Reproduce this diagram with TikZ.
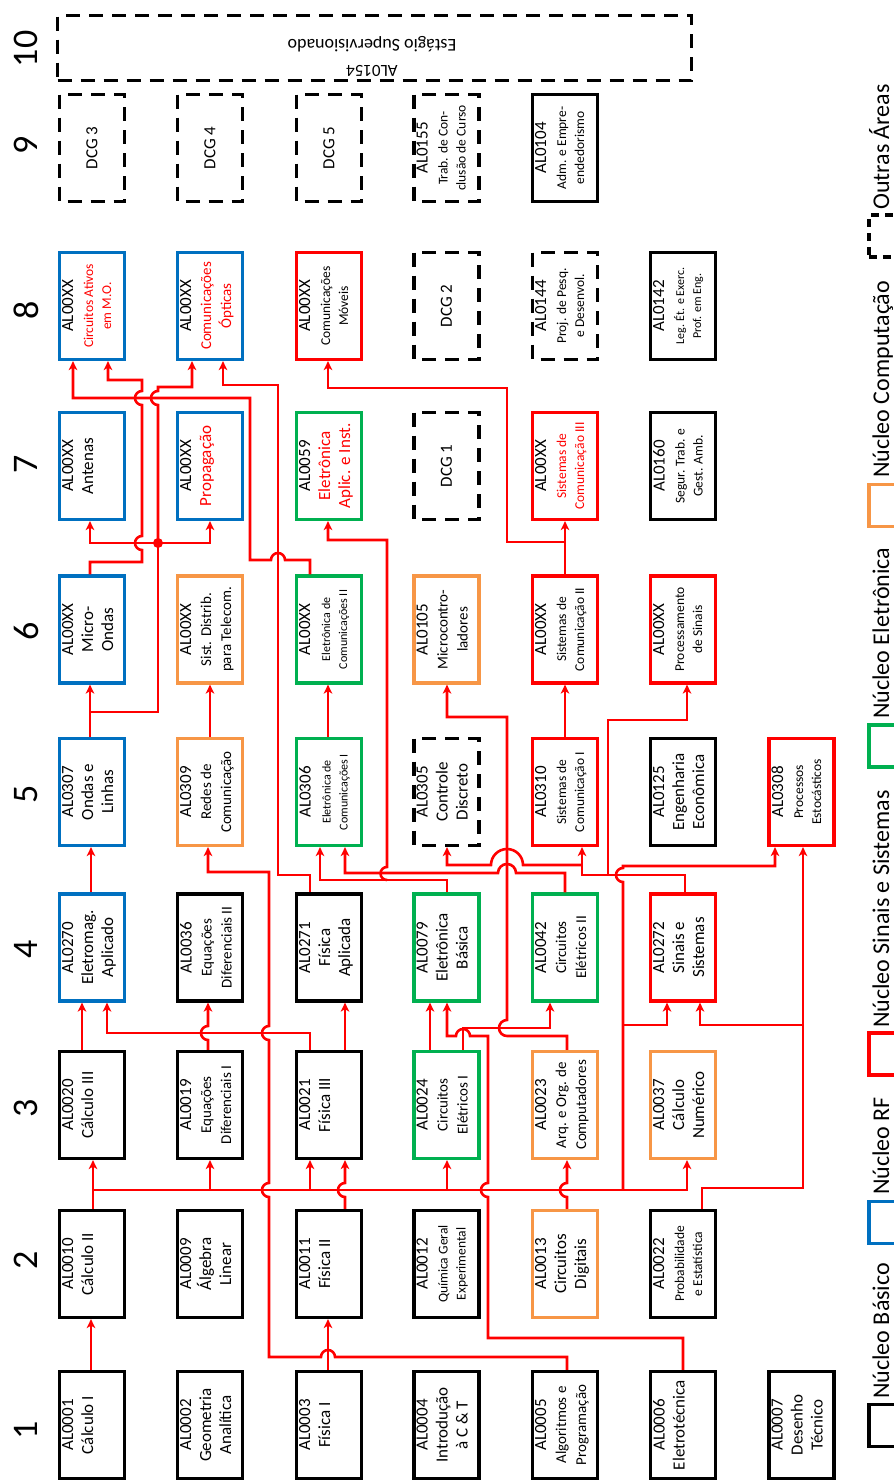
\documentclass[tikz,border=0pt]{standalone}
\usepackage{fontspec}
\setmainfont{Carlito}
\usetikzlibrary{arrows.meta}
\definecolor{cblue}{RGB}{0,112,192}
\definecolor{cgreen}{RGB}{0,176,80}
\definecolor{corange}{RGB}{247,150,70}
\definecolor{cred}{RGB}{255,0,0}
\newcommand\dmed[1]{{\fontsize{15}{18}\selectfont #1}}
\newcommand\dsml[1]{{\fontsize{13.5}{16}\selectfont #1}}
\newcommand\dtny[1]{{\fontsize{12}{14}\selectfont #1}}
\newcommand\redt[1]{\textcolor{cred}{#1}}
\newcommand\mybox[5]{\node[#2] (#1) at (#3,#4) {};\node[txt,anchor=north] (#1t) at ([xshift=4pt]#1.north) {#5};}
\begin{document}
\begin{tikzpicture}[x=1pt,y=-1pt,
  bx/.style={draw=#1, line width=3.2pt, rotate=90, minimum width=107pt, minimum height=65pt, inner sep=0pt},
  dbx/.style={draw=black, line width=3.2pt, dash pattern=on 14pt off 9pt, rotate=90, minimum width=107pt, minimum height=65pt, inner sep=0pt, font=\fontsize{17}{20}\selectfont, text=black},
  txt/.style={rotate=90, align=center, inner sep=0pt, font=\fontsize{17}{20}\selectfont, text=black},
  arr/.style={draw=cred, line width=2.6pt, -{Stealth[length=9pt,width=8.5pt,inset=2.5pt]}},
  ln/.style={draw=cred, line width=2.6pt},
  sem/.style={rotate=90, inner sep=0pt, font=\fontsize{36}{40}\selectfont},
  leg/.style={rotate=90, inner sep=0pt, anchor=base west, font=\fontsize{24}{28}\selectfont},
  legsq/.style={draw=#1, line width=3.5pt, minimum width=40pt, minimum height=42pt, inner sep=0pt}
]
\useasboundingbox (0,0) rectangle (894,1481);
\fill[white] (0,0) rectangle (894,1481);
\clip (0,0) rectangle (894,1481);

% semester labels
\node[sem] (n1) at (26,1430) {1};
\node[sem] (n2) at (26,1260) {2};
\node[sem] (n3) at (26,1108) {3};
\node[sem] (n4) at (26,949) {4};
\node[sem] (n5) at (26,794) {5};
\node[sem] (n6) at (26,631) {6};
\node[sem] (n7) at (26,464) {7};
\node[sem] (n8) at (26,310) {8};
\node[sem] (n9) at (26,145) {9};
\node[sem] (n10) at (26,49) {10};

% semester 1
\mybox{a1}{bx=black}{92}{1425}{AL0001\\Cálculo I}
\mybox{b1}{bx=black}{210}{1425}{AL0002\\Geometria\\Analítica}
\mybox{c1}{bx=black}{329}{1425}{AL0003\\Física I}
\mybox{d1}{bx=black}{446.5}{1425}{AL0004\\Introdução\\à C \& T}
\mybox{e1}{bx=black}{565}{1425}{AL0005\\\dmed{Algoritmos e}\\\dmed{Programação}}
\mybox{f1}{bx=black}{683}{1425}{AL0006\\Eletrotécnica}
\mybox{g1}{bx=black}{801.5}{1425}{AL0007\\Desenho\\Técnico}
% semester 2
\mybox{a2}{bx=black}{92}{1264}{AL0010\\Cálculo II}
\mybox{b2}{bx=black}{210}{1264}{AL0009\\Álgebra\\Linear}
\mybox{c2}{bx=black}{329}{1264}{AL0011\\Física II}
\mybox{d2}{bx=black}{446.5}{1264}{AL0012\\\dsml{Química Geral}\\[-2pt]\dsml{Experimental}}
\mybox{e2}{bx=corange}{565}{1264}{AL0013\\Circuitos\\Digitais}
\mybox{f2}{bx=black}{683}{1264}{AL0022\\\dsml{Probabilidade}\\[-2pt]\dsml{e Estatística}}
% semester 3
\mybox{a3}{bx=black}{92}{1105}{AL0020\\Cálculo III}
\mybox{b3}{bx=black}{210}{1105}{AL0019\\\dmed{Equações}\\\dmed{Diferenciais I}}
\mybox{c3}{bx=black}{329}{1105}{AL0021\\Física III}
\mybox{d3}{bx=cgreen}{446.5}{1105}{AL0024\\\dmed{Circuitos}\\\dmed{Elétricos I}}
\mybox{e3}{bx=corange}{565}{1105}{AL0023\\\dmed{Arq. e Org. de}\\\dmed{Computadores}}
\mybox{f3}{bx=corange}{683}{1105}{AL0037\\Cálculo\\Numérico}
% semester 4
\mybox{a4}{bx=cblue}{92}{947.5}{AL0270\\Eletromag.\\Aplicado}
\mybox{b4}{bx=black}{210}{947.5}{AL0036\\\dmed{Equações}\\\dmed{Diferenciais II}}
\mybox{c4}{bx=black}{329}{947.5}{AL0271\\Física\\Aplicada}
\mybox{d4}{bx=cgreen}{446.5}{947.5}{AL0079\\Eletrônica\\Básica}
\mybox{e4}{bx=cgreen}{565}{947.5}{AL0042\\\dmed{Circuitos}\\\dmed{Elétricos II}}
\mybox{f4}{bx=cred}{683}{947.5}{AL0272\\Sinais e\\Sistemas}
% semester 5
\mybox{a5}{bx=cblue}{92}{792}{AL0307\\Ondas e\\Linhas}
\mybox{b5}{bx=corange}{210}{792}{AL0309\\\dmed{Redes de}\\\dmed{Comunicação}}
\mybox{c5}{bx=cgreen}{329}{792}{AL0306\\\dtny{Eletrônica de}\\[-3pt]\dtny{Comunicações I}}
\mybox{d5}{dbx}{446.5}{792}{AL0305\\Controle\\Discreto}
\mybox{e5}{bx=cred}{565}{792}{AL0310\\\dsml{Sistemas de}\\[-2pt]\dsml{Comunicação I}}
\mybox{f5}{bx=black}{683}{792}{AL0125\\Engenharia\\Econômica}
\mybox{g5}{bx=cred}{801.5}{792}{AL0308\\\dsml{Processos}\\[-2pt]\dsml{Estocásticos}}
% semester 6
\mybox{a6}{bx=cblue}{92}{629.5}{AL00XX\\Micro-\\Ondas}
\mybox{b6}{bx=corange}{210}{629.5}{AL00XX\\\dmed{Sist. Distrib.}\\\dmed{para Telecom.}}
\mybox{c6}{bx=cgreen}{329}{629.5}{AL00XX\\\dtny{Eletrônica de}\\[-3pt]\dtny{Comunicações II}}
\mybox{d6}{bx=corange}{446.5}{629.5}{AL0105\\\dmed{Microcontro-}\\\dmed{ladores}}
\mybox{e6}{bx=cred}{565}{629.5}{AL00XX\\\dsml{Sistemas de}\\[-2pt]\dsml{Comunicação II}}
\mybox{f6}{bx=cred}{683}{629.5}{AL00XX\\\dsml{Processamento}\\[-2pt]\dsml{de Sinais}}
% semester 7
\mybox{a7}{bx=cblue}{92}{466}{AL00XX\\Antenas}
\mybox{b7}{bx=cblue}{210}{466}{AL00XX\\\redt{Propagação}}
\mybox{c7}{bx=cgreen}{329}{466}{AL0059\\\redt{Eletrônica}\\\redt{Aplic. e Inst.}}
\node[dbx] (d7) at (446.5,466) {DCG 1};
\mybox{e7}{bx=cred}{565}{466}{AL00XX\\\dsml{\redt{Sistemas de}}\\[-2pt]\dsml{\redt{Comunicação III}}}
\mybox{f7}{bx=black}{683}{466}{AL0160\\\dsml{Segur. Trab. e}\\[-2pt]\dsml{Gest. Amb.}}
% semester 8
\mybox{a8}{bx=cblue}{92}{306}{AL00XX\\\dsml{\redt{Circuitos Ativos}}\\[-2pt]\dsml{\redt{em M.O.}}}
\mybox{b8}{bx=cblue}{210}{306}{AL00XX\\\dmed{\redt{Comunicações}}\\\dmed{\redt{Ópticas}}}
\mybox{c8}{bx=cred}{329}{306}{AL00XX\\\dsml{Comunicações}\\[-2pt]\dsml{Móveis}}
\node[dbx] (d8) at (446.5,306) {DCG 2};
\mybox{e8}{dbx}{565}{306}{AL0144\\\dsml{Proj. de Pesq.}\\[-2pt]\dsml{e Desenvol.}}
\mybox{f8}{bx=black}{683}{306}{AL0142\\\dtny{Leg. Ét. e Exerc.}\\[-3pt]\dtny{Prof. em Eng.}}
% semester 9
\node[dbx] (a9) at (92,148) {DCG 3};
\node[dbx] (b9) at (210,148) {DCG 4};
\node[dbx] (c9) at (329,148) {DCG 5};
\mybox{d9}{dbx}{446.5}{148}{AL0155\\\dsml{Trab. de Con-}\\[-2pt]\dsml{clusão de Curso}}
\mybox{e9}{bx=black}{565}{148}{AL0104\\\dsml{Adm. e Empre-}\\[-2pt]\dsml{endedorismo}}
% semester 10
\node[draw=black, line width=3.2pt, dash pattern=on 14pt off 9pt, minimum width=634pt, minimum height=65pt, inner sep=0pt] (s10) at (374.5,48) {};
\node[rotate=180, align=center, inner sep=0pt, anchor=north, font=\fontsize{17}{20}\selectfont] (s10t) at (372,77) {AL0154\\[6pt]{\fontsize{18}{20}\selectfont Estágio Supervisionado}};

% connectors
\draw[arr] (91,0 |- a1.east) -- (91,0 |- a2.west);
\draw[arr] (93,0 |- a2.east) -- (93,0 |- a3.west);
\draw[arr] (93,1190) -- (687,1190) -- (687,0 |- f3.west);
\draw[arr] (210,1190) -- (210,0 |- b3.west);
\draw[arr] (310,1190) -- (310,0 |- c3.west);
\draw[arr] (447,1190) -- (447,0 |- d3.west);
\draw[arr] (623,1190) -- (623,882) arc[start angle=90,end angle=270,radius=7] -- (623,866) -- (775,866) -- (775,0 |- g5.west);
\draw[arr] (623,1025) -- (667,1025) -- (667,0 |- f4.west);
\draw[arr] (328,0 |- c1.east) -- (328,0 |- c2.west);
\draw[arr] (345,0 |- c2.east) -- (345,1197) arc[start angle=90,end angle=270,radius=7] -- (345,0 |- c3.west);
\draw[arr] (567,0 |- e1.east) -- (567,1357) -- (335,1357) arc[start angle=0,end angle=-180,radius=7] -- (269,1357) -- (269,1197) arc[start angle=90,end angle=270,radius=7] -- (269,1040) arc[start angle=90,end angle=270,radius=7] -- (269,872) -- (208,872) -- (208,0 |- b5.west);
\draw[arr] (310,0 |- c3.east) -- (310,1033) -- (107,1033) -- (107,0 |- a4.west);
\draw[arr] (345,0 |- c3.east) -- (345,0 |- c4.west);
\draw[arr] (208,0 |- b3.east) -- (208,1040) arc[start angle=90,end angle=270,radius=7] -- (208,0 |- b4.west);
\draw[arr] (82,0 |- a3.east) -- (82,0 |- a4.west);
\draw[arr] (91,0 |- a4.east) -- (91,0 |- a5.west);
\draw[arr] (90,0 |- a5.east) -- (90,0 |- a6.west);
\draw[ln] (90,712) -- (158,712) -- (158,543);
\draw[arr] (158,543) -- (90,543) -- (90,0 |- a7.west);
\draw[arr] (158,543) -- (210,543) -- (210,0 |- b7.west);
\draw[arr] (158,543) -- (158,405) arc[start angle=90,end angle=270,radius=7] -- (158,387) -- (192,387) -- (192,0 |- b8.west);
\fill[cred] (158,543) circle[radius=5];
\draw[arr] (90,0 |- a6.east) -- (90,562) -- (142,562) -- (142,550) arc[start angle=90,end angle=270,radius=7] -- (142,405) arc[start angle=90,end angle=270,radius=7] -- (142,380) -- (108,380) -- (108,0 |- a8.west);
\draw[arr] (310,0 |- c6.east) -- (310,560) -- (285,560) arc[start angle=0,end angle=-180,radius=7] -- (250,560) -- (250,398) -- (73,398) -- (73,0 |- a8.west);
\draw[arr] (310,0 |- c4.east) -- (310,875) -- (278,875) -- (278,385) -- (223,385) -- (223,0 |- b8.west);
\draw[arr] (210,0 |- b5.east) -- (210,0 |- b6.west);
\draw[arr] (328,0 |- c5.east) -- (328,0 |- c6.west);
\draw[arr] (447,0 |- d4.east) -- (447,880) -- (320,880) -- (320,0 |- c5.west);
\draw[arr] (387,880) arc[start angle=90,end angle=270,radius=6.5] -- (387,540) -- (328,540) -- (328,0 |- c7.west);
\draw[arr] (565,0 |- e4.east) -- (565,873) -- (516,873) arc[start angle=0,end angle=-180,radius=9] -- (345,873) -- (345,0 |- c5.west);
\draw[arr] (685,0 |- f4.east) -- (685,875) -- (582,875) -- (582,0 |- e5.west);
\draw[arr] (582,865) -- (523,865) arc[start angle=0,end angle=-180,radius=16] -- (447,865) -- (447,0 |- d5.west);
\draw[arr] (608,875) -- (608,720) -- (687,720) -- (687,0 |- f6.west);
\draw[arr] (567,0 |- e3.east) -- (567,1036) -- (507,1036) arc[start angle=90,end angle=270,radius=8] -- (507,717) -- (447,717) -- (447,0 |- d6.west);
\draw[arr] (463,0 |- d3.east) -- (463,1028) -- (550,1028) -- (550,0 |- e4.west);
\draw[arr] (430,0 |- d3.east) -- (430,0 |- d4.west);
\draw[arr] (683,0 |- f1.east) -- (683,1338) -- (488,1338) -- (488,1197) arc[start angle=90,end angle=270,radius=7] -- (488,1036) -- (470,1036) arc[start angle=0,end angle=-180,radius=7] -- (447,1036) -- (447,0 |- d4.west);
\draw[arr] (567,0 |- e2.east) -- (567,1197) arc[start angle=90,end angle=270,radius=7] -- (567,0 |- e3.west);
\draw[arr] (565,0 |- e5.east) -- (565,0 |- e6.west);
\draw[arr] (565,0 |- e6.east) -- (565,0 |- e7.west);
\draw[arr] (565,542) -- (507,542) -- (507,388) -- (328,388) -- (328,0 |- c8.west);
\draw[arr] (702,0 |- f2.east) -- (702,1188) -- (803,1188) -- (803,0 |- g5.west);
\draw[arr] (803,1025) -- (700,1025) -- (700,0 |- f4.west);

% legend
\node[legsq=black] (k1) at (888.75,1425.5) {};
\node[leg] (t1) at (889,1399) {Núcleo Básico};
\node[legsq=cblue] (k2) at (888.75,1222.5) {};
\node[leg] (t2) at (889,1195) {Núcleo RF};
\node[legsq=cred] (k3) at (888.75,1054) {};
\node[leg] (t3) at (889,1028) {Núcleo Sinais e Sistemas};
\node[legsq=cgreen] (k4) at (888.75,746) {};
\node[leg] (t4) at (889,719) {Núcleo Eletrônica};
\node[legsq=corange] (k5) at (888.75,505.5) {};
\node[leg] (t5) at (889,478) {Núcleo Computação};
\node[legsq=black, dash pattern=on 8pt off 6pt] (k6) at (888.75,236) {};
\node[leg] (t6) at (889,210) {Outras Áreas};
\end{tikzpicture}
\end{document}
